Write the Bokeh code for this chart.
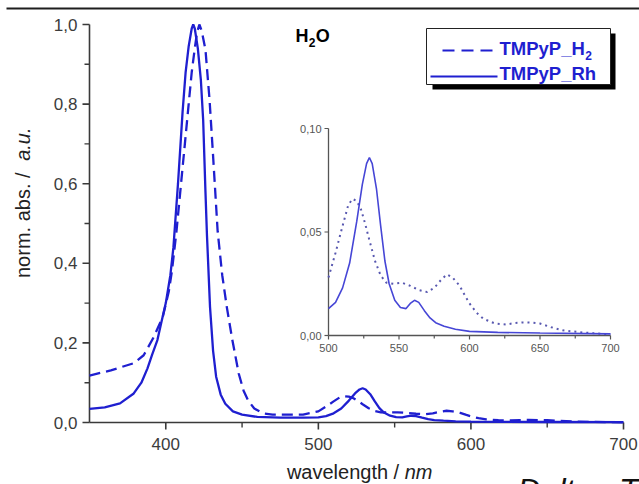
import numpy as np
from bokeh.plotting import figure
from bokeh.models import Range1d
from bokeh.core.properties import value
from bokeh.embed import file_html
from bokeh.resources import INLINE

# ---------------- data ----------------
series_names = ["TMPyP_H", "TMPyP_Rh"]          # legend names (H gets subscript 2)

wl_h2 = [350, 364, 379, 385.5, 392, 398, 402, 404, 407, 410,
         413, 415, 417, 419, 420.5, 422, 423.5, 426, 428.7, 431,
         434, 437, 440, 443.5, 447.8, 451, 454, 458, 464, 470,
         490, 500, 505, 510, 514, 517, 520, 523, 526, 529,
         533, 537, 541, 546, 552, 558, 564, 570, 575, 580,
         584, 588, 593, 597, 600, 605, 610, 618, 626, 632,
         638, 644, 650, 658, 666, 680, 690, 700]
abs_h2 = [0.118, 0.131, 0.149, 0.169, 0.214, 0.265, 0.330, 0.380, 0.480, 0.600,
          0.720, 0.800, 0.880, 0.940, 0.980, 1.000, 0.985, 0.937, 0.810, 0.670,
          0.480, 0.370, 0.290, 0.210, 0.123, 0.080, 0.055, 0.035, 0.023, 0.020,
          0.020, 0.028, 0.040, 0.053, 0.063, 0.066, 0.065, 0.061, 0.054, 0.046,
          0.036, 0.029, 0.0255, 0.025, 0.0255, 0.024, 0.022, 0.021, 0.023, 0.027,
          0.0295, 0.028, 0.024, 0.019, 0.0155, 0.011, 0.008, 0.0058, 0.0053, 0.006,
          0.0063, 0.0062, 0.0058, 0.004, 0.0025, 0.0015, 0.001, 0.0005]

wl_rh = [350, 360, 370, 379, 384, 388, 391, 394.5, 397, 400,
         403, 405, 408, 411, 413, 415, 417, 418, 419, 421,
         423, 424.5, 426, 427, 429, 431, 433, 436, 439, 444,
         450, 460, 475, 490, 500, 505, 510, 515, 520, 524,
         527, 529, 531, 534, 537, 540, 543, 547, 551, 555,
         558, 561, 564, 568, 572, 576, 582, 590, 600, 620,
         650, 700]
abs_rh = [0.034, 0.038, 0.048, 0.073, 0.100, 0.136, 0.170, 0.207, 0.250, 0.300,
          0.370, 0.440, 0.600, 0.780, 0.880, 0.945, 0.990, 1.000, 0.990, 0.940,
          0.860, 0.760, 0.580, 0.470, 0.290, 0.180, 0.115, 0.070, 0.047, 0.028,
          0.020, 0.014, 0.012, 0.012, 0.013, 0.016, 0.023, 0.035, 0.055, 0.073,
          0.083, 0.086, 0.083, 0.071, 0.053, 0.036, 0.025, 0.017, 0.0135, 0.013,
          0.0155, 0.017, 0.016, 0.012, 0.0085, 0.0062, 0.0045, 0.003, 0.002, 0.0015,
          0.0012, 0.0008]

x_limits = [350, 700]
y_limits = [0.0, 1.0]
x_ticks = [400, 500, 600, 700]
x_minor = [450, 550, 650]
y_ticks = [0.0, 0.2, 0.4, 0.6, 0.8, 1.0]
y_minor = [0.1, 0.3, 0.5, 0.7, 0.9]

inset_x_ticks = [500, 550, 600, 650, 700]
inset_x_minor = [525, 575, 625, 675]
inset_y_ticks = [0.00, 0.05, 0.10]

# ---------------- styling / layout (page pixels) ----------------
FONT = "Liberation Sans"
BLUE = "#1f1fd0"
INSET_SOLID = "#4646d6"
INSET_DOT = "#5858b0"
AXIS = "#3a3a3a"
TICKTXT = "#3c3c3c"
MID = 0.355          # text "middle" sits ~0.355 em above the alphabetic baseline

W, H = 639, 484
FL, FR, FT, FB = 89, 623, 24, 422     # main axes box
IL, IR, IB, IT = 328, 610, 335, 128   # inset axes box

sx = (FR - FL) / (x_limits[1] - x_limits[0])
sy = (FB - FT) / (y_limits[1] - y_limits[0])

p = figure(width=W, height=H, output_backend="svg", toolbar_location=None, title=None,
           x_range=Range1d(x_limits[0] - FL / sx, x_limits[1] + (W - FR) / sx),
           y_range=Range1d(y_limits[0] - (H - FB) / sy, y_limits[1] + FT / sy),
           x_axis_location=None, y_axis_location=None,
           min_border=0, min_border_left=0, min_border_right=0,
           min_border_top=0, min_border_bottom=0)
p.outline_line_color = None
p.grid.visible = False
p.background_fill_color = "white"
p.border_fill_color = "white"


def dx(px):
    return x_limits[0] + (px - FL) / sx


def dy(py):
    return y_limits[0] + (FB - py) / sy


def txt(x, y, s, size, color, style="normal", align="left", baseline="middle", angle=0.0, **kw):
    p.text(x=x, y=y, text=s, text_font=value(FONT), text_font_size=f"{size}px",
           text_font_style=style, text_color=color, text_align=align,
           text_baseline=baseline, angle=angle, **kw)


def htxt(px, base_py, s, size, color, style="normal"):
    """horizontal text placed by its left edge and alphabetic baseline (page px)"""
    txt([dx(px)], [dy(base_py - MID * size)], [s], size, color, style=style)


# ---------------- top rule ----------------
p.segment(x0=[dx(6)], y0=[dy(8)], x1=[dx(W)], y1=[dy(8)], line_color="#1e1e1e", line_width=2)

# ---------------- main axes (drawn from tick arrays) ----------------
p.segment(x0=[x_limits[0]], y0=[y_limits[0]], x1=[x_limits[1]], y1=[y_limits[0]],
          line_color=AXIS, line_width=1.6)
p.segment(x0=[x_limits[0]], y0=[y_limits[0]], x1=[x_limits[0]], y1=[y_limits[1]],
          line_color=AXIS, line_width=1.6)
p.segment(x0=x_ticks, y0=[y_limits[0]] * len(x_ticks), x1=x_ticks,
          y1=[y_limits[0] - 7 / sy] * len(x_ticks), line_color=AXIS, line_width=1.6)
p.segment(x0=x_minor, y0=[y_limits[0]] * len(x_minor), x1=x_minor,
          y1=[y_limits[0] - 5 / sy] * len(x_minor), line_color=AXIS, line_width=1.4)
p.segment(x0=[x_limits[0]] * len(y_ticks), y0=y_ticks, x1=[x_limits[0] - 7 / sx] * len(y_ticks),
          y1=y_ticks, line_color=AXIS, line_width=1.6)
p.segment(x0=[x_limits[0]] * len(y_minor), y0=y_minor, x1=[x_limits[0] - 5 / sx] * len(y_minor),
          y1=y_minor, line_color=AXIS, line_width=1.4)
txt(x_ticks, [y_limits[0]] * len(x_ticks), [str(t) for t in x_ticks], 17, TICKTXT,
    align="center", baseline="middle", y_offset=21)
txt([x_limits[0]] * len(y_ticks), y_ticks, [f"{t:.1f}".replace(".", ",") for t in y_ticks], 17,
    TICKTXT, align="right", baseline="middle", x_offset=-12)

# ---------------- main curves ----------------
p.line(wl_h2, abs_h2, line_color=BLUE, line_width=2.3, line_dash="11 6")
p.line(wl_rh, abs_rh, line_color=BLUE, line_width=2.3)

# ---------------- inset via extra ranges ----------------
ixs = (IR - IL) / (inset_x_ticks[-1] - inset_x_ticks[0])
iys = (IB - IT) / (inset_y_ticks[-1] - inset_y_ticks[0])
p.extra_x_ranges = {"ix": Range1d(inset_x_ticks[0] - IL / ixs, inset_x_ticks[-1] + (W - IR) / ixs)}
p.extra_y_ranges = {"iy": Range1d(inset_y_ticks[0] - (H - IB) / iys, inset_y_ticks[-1] + IT / iys)}
IK = dict(x_range_name="ix", y_range_name="iy")

wh = np.array(wl_h2); ah = np.array(abs_h2)
wr = np.array(wl_rh); ar = np.array(abs_rh)
mh = wh >= inset_x_ticks[0]
mr = wr >= inset_x_ticks[0]

ICOL = "#555555"
p.segment(x0=[inset_x_ticks[0]], y0=[inset_y_ticks[0]], x1=[inset_x_ticks[-1]], y1=[inset_y_ticks[0]],
          line_color=ICOL, line_width=1.3, **IK)
p.segment(x0=[inset_x_ticks[0]], y0=[inset_y_ticks[0]], x1=[inset_x_ticks[0]], y1=[inset_y_ticks[-1]],
          line_color=ICOL, line_width=1.3, **IK)
tx = inset_x_ticks + inset_x_minor
tl = [4 / iys] * len(inset_x_ticks) + [3 / iys] * len(inset_x_minor)
p.segment(x0=tx, y0=[inset_y_ticks[0]] * len(tx), x1=tx, y1=[inset_y_ticks[0] - t for t in tl],
          line_color=ICOL, line_width=1.2, **IK)
p.segment(x0=[inset_x_ticks[0]] * len(inset_y_ticks), y0=inset_y_ticks,
          x1=[inset_x_ticks[0] - 4 / ixs] * len(inset_y_ticks), y1=inset_y_ticks,
          line_color=ICOL, line_width=1.2, **IK)
txt(inset_x_ticks, [inset_y_ticks[0]] * len(inset_x_ticks), [str(t) for t in inset_x_ticks], 11, ICOL,
    align="center", baseline="middle", y_offset=12, **IK)
txt([inset_x_ticks[0]] * len(inset_y_ticks), inset_y_ticks,
    [f"{t:.2f}".replace(".", ",") for t in inset_y_ticks], 11, ICOL,
    align="right", baseline="middle", x_offset=-7, **IK)

p.line(wh[mh], ah[mh], line_color=INSET_DOT, line_width=2, line_dash="2 4", **IK)
p.line(wr[mr], ar[mr], line_color=INSET_SOLID, line_width=1.6, **IK)

# ---------------- legend (with drop shadow) ----------------
p.quad(left=[dx(432)], right=[dx(615)], top=[dy(33)], bottom=[dy(89)],
       fill_color="black", line_color=None)
p.quad(left=[dx(426)], right=[dx(610)], top=[dy(28)], bottom=[dy(84)],
       fill_color="white", line_color="#222222", line_width=1)
p.line(x=[dx(442), dx(497)], y=[dy(50), dy(50)], line_color=BLUE, line_width=2.2, line_dash="12 7")
p.line(x=[dx(430), dx(497)], y=[dy(76), dy(76)], line_color=BLUE, line_width=2.2)

LFS = 18.5
htxt(499, 55, series_names[0], LFS, BLUE, style="bold")
w_h = 4612 * LFS / 1000.0
htxt(499 + w_h + 0.5, 59, "2", 12, BLUE, style="bold")
htxt(499, 80, series_names[1], LFS, BLUE, style="bold")

# ---------------- H2O label ----------------
htxt(295, 42, "H", 18, "black", style="bold")
htxt(295 + 13.3, 46, "2", 12, "black", style="bold")
htxt(295 + 13.3 + 7.0, 42, "O", 18, "black", style="bold")

# ---------------- axis titles (normal + italic part) ----------------
AFS = 20
w_xa = 5892 * AFS / 1000.0
w_xb = 1389 * AFS / 1000.0
x0 = 432 - (w_xa + w_xb)
htxt(x0, 479, "wavelength / ", AFS, "#222222")
htxt(x0 + w_xa, 479, "nm", AFS, "#222222", style="italic")

w_ya = 5858 * AFS / 1000.0
w_yb = 1668 * AFS / 1000.0
y0 = 127 + w_ya + w_yb
ycx = 30 - MID * AFS
txt([dx(ycx)], [dy(y0)], ["norm. abs. / "], AFS, "#222222", angle=np.pi / 2)
txt([dx(ycx)], [dy(y0 - w_ya)], ["a.u."], AFS, "#222222", style="italic", angle=np.pi / 2)

# ---------------- journal watermark, cut off at the bottom edge ----------------
htxt(517, 501, "Dalton Trans.", 32, "#111111", style="italic")

open("out.html", "w").write(file_html(p, INLINE))
